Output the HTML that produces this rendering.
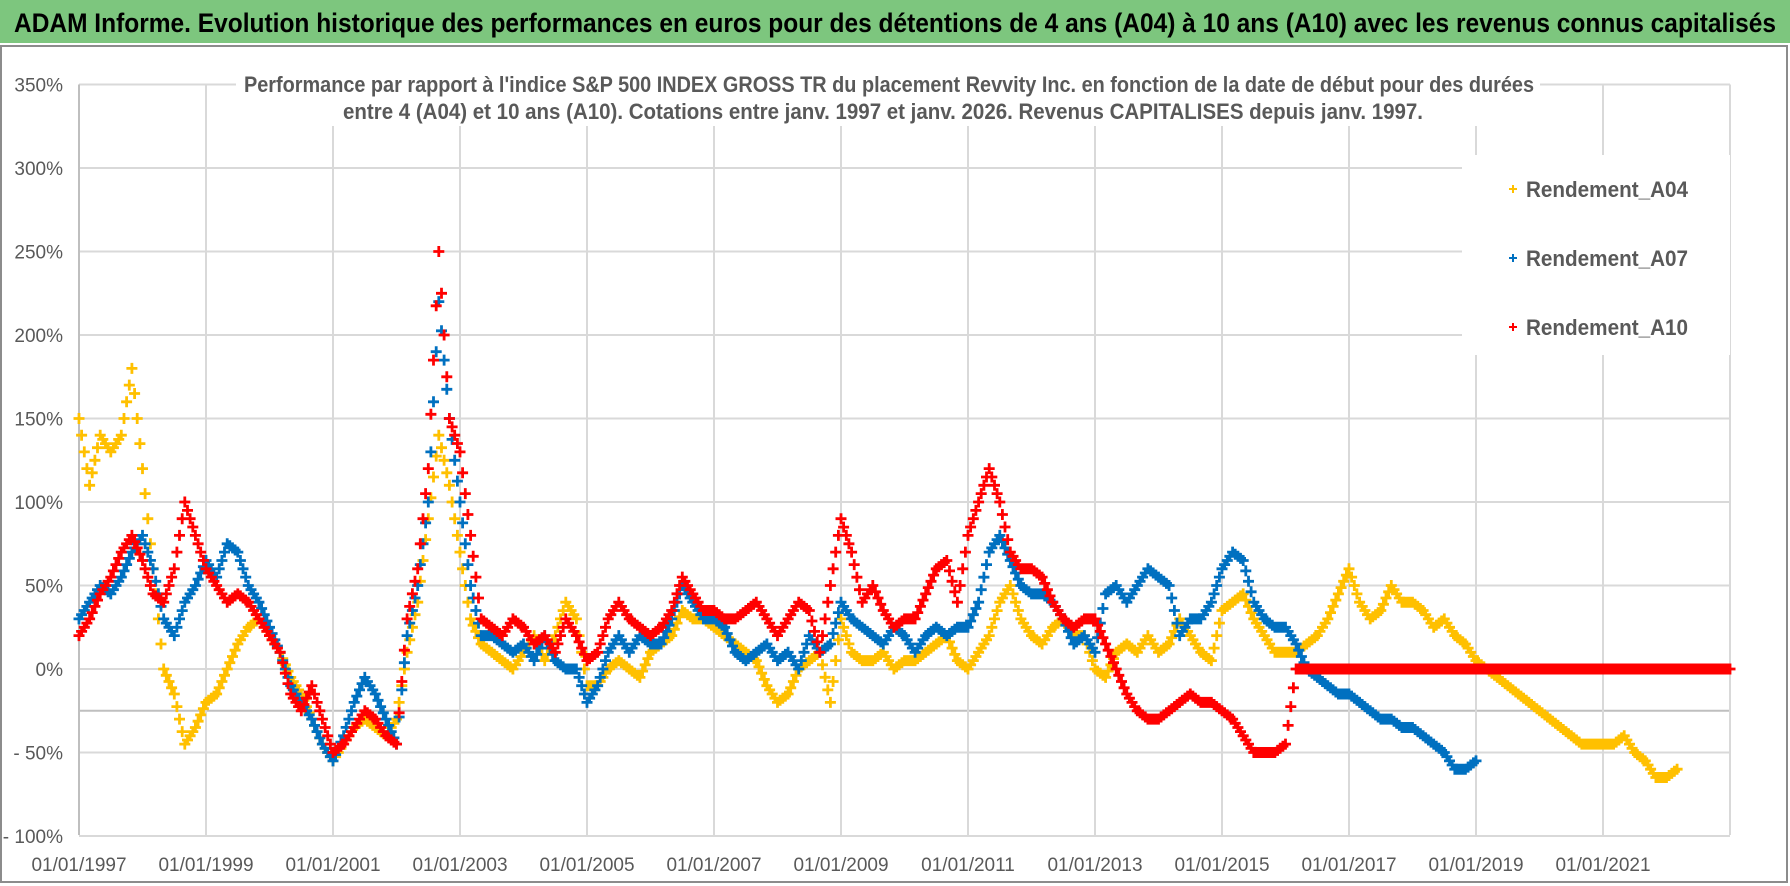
<!DOCTYPE html>
<html><head><meta charset="utf-8"><style>
html,body{margin:0;padding:0;background:#fff;}
svg{display:block;font-family:"Liberation Sans Narrow","Liberation Sans",sans-serif;}
</style></head><body>
<svg id="chart" width="1790" height="886" viewBox="0 0 1790 886" xmlns="http://www.w3.org/2000/svg">
<rect x="0" y="0" width="1790" height="886" fill="#fff"/>
<rect x="0" y="0" width="1790" height="43" fill="#7dc67e"/>
<text x="14" y="32" font-size="27" font-weight="bold" fill="#000" textLength="1762" lengthAdjust="spacingAndGlyphs">ADAM Informe. Evolution historique des performances en euros pour des détentions de 4 ans (A04) à 10 ans (A10) avec les revenus connus capitalisés</text>
<rect x="1" y="46" width="1786" height="836" fill="none" stroke="#8c8c8c" stroke-width="2"/>
<g id="grid"></g>
<g id="axes"></g>
<g id="marks"></g>
<rect x="236" y="64" width="1304" height="62" fill="#fff"/>
<text x="244" y="92" font-size="22" font-weight="bold" fill="#595959" textLength="1290" lengthAdjust="spacingAndGlyphs">Performance par rapport à l'indice S&amp;P 500 INDEX GROSS TR  du placement Revvity Inc. en fonction de la date de début pour des durées</text>
<text x="343" y="119" font-size="22" font-weight="bold" fill="#595959" textLength="1080" lengthAdjust="spacingAndGlyphs">entre 4 (A04) et 10 ans (A10).  Cotations entre janv. 1997 et janv. 2026. Revenus CAPITALISES depuis janv. 1997.</text>
<g>
<rect x="1462" y="155" width="268" height="200" fill="#fff"/>
<g><path d="M1509 189h8M1513 185v8" stroke="#ffc000" stroke-width="2"/><text x="1526" y="197" font-size="22" font-weight="bold" fill="#595959" textLength="162" lengthAdjust="spacingAndGlyphs">Rendement_A04</text></g>
<g><path d="M1509 258h8M1513 254v8" stroke="#0070c0" stroke-width="2"/><text x="1526" y="266" font-size="22" font-weight="bold" fill="#595959" textLength="162" lengthAdjust="spacingAndGlyphs">Rendement_A07</text></g>
<g><path d="M1509 327h8M1513 323v8" stroke="#ff0000" stroke-width="2"/><text x="1526" y="335" font-size="22" font-weight="bold" fill="#595959" textLength="162" lengthAdjust="spacingAndGlyphs">Rendement_A10</text></g>
</g>
</svg>
<script>
const startYear = 1997;
const stepYears = 1/6;
const yTicks = [350,300,250,200,150,100,50,0,-50,-100];
const yTickLabels = ["350%","300%","250%","200%","150%","100%","50%","0%","- 50%","- 100%"];
const xTickYears = [1997,1999,2001,2003,2005,2007,2009,2011,2013,2015,2017,2019,2021];
const xTickLabels = ["01/01/1997","01/01/1999","01/01/2001","01/01/2003","01/01/2005","01/01/2007","01/01/2009","01/01/2011","01/01/2013","01/01/2015","01/01/2017","01/01/2019","01/01/2021"];
const rendementA04 = [
150,110,140,130,140,180,
120,60,0,-15,-45,-35,
-20,-15,0,15,25,30,
20,10,-5,-15,-30,-45,
-55,-45,-35,-30,-35,-40,
-30,10,40,90,140,110,
70,30,15,10,5,0,
10,20,5,20,40,30,
-10,-10,0,5,0,-5,
10,15,20,35,30,30,
25,20,15,10,5,-10,
-20,-15,0,5,10,-20,
30,10,5,5,10,0,
5,5,10,15,20,5,
0,10,20,40,50,30,
20,15,25,30,20,20,
0,-5,10,15,10,20,
10,15,30,20,10,5,
35,40,45,30,20,10,
10,10,15,20,30,45,
60,40,30,35,50,40,
40,35,25,30,20,15,
5,0,-5,-10,-15,-20,
-25,-30,-35,-40,-45,-45,
-45,-45,-40,-50,-55,-65,
-65,-60];
const rendementA07 = [
30,40,50,45,55,70,
80,60,30,20,40,50,
65,55,75,70,50,40,
25,10,-10,-20,-30,-45,
-55,-40,-20,-5,-15,-30,
-45,20,50,100,220,150,
100,50,20,20,15,10,
15,5,20,5,0,0,
-20,-10,10,20,10,20,
15,15,30,50,40,30,
30,25,10,5,10,15,
5,10,0,20,10,15,
40,30,25,20,15,25,
20,10,20,25,20,25,
25,40,70,80,65,50,
45,45,40,30,15,20,
10,45,50,40,50,60,
55,50,20,30,30,40,
60,70,65,40,30,25,
25,15,0,-5,-10,-15,
-15,-20,-25,-30,-30,-35,
-35,-40,-45,-50,-60,-60,
-55];
const rendementA10 = [
20,30,45,55,70,80,
65,45,40,60,100,80,
60,50,40,45,40,30,
20,10,-15,-25,-10,-30,
-50,-45,-35,-25,-30,-40,
-45,30,60,120,250,150,
130,80,30,25,20,30,
25,15,20,10,30,20,
5,10,30,40,30,25,
20,25,35,55,45,35,
35,30,30,35,40,30,
20,30,40,35,10,50,
90,70,40,50,35,25,
30,30,45,60,65,40,
80,100,120,100,70,60,
60,55,40,30,25,30,
30,15,0,-15,-25,-30,
-30,-25,-20,-15,-20,-20,
-25,-30,-40,-50,-50,-50,
-45,0,0,0,0,0,
0,0,0,0,0,0,
0,0,0,0,0,0,
0,0,0,0,0,0,
0,0,0,0,0,0,
0,0,0,0,0,0,
0,0,0,0,0,0,
0];

const NS = "http://www.w3.org/2000/svg";
const plotLeft = 79, plotRight = 1730, plotBottom = 835;
function xScale(year){ return plotLeft + (year - 1997) * 63.5; }
function yScale(v){ return 669 - v * 1.67; }
function mk(tag, attrs, parent){ const e=document.createElementNS(NS,tag); for(const k in attrs) e.setAttribute(k,attrs[k]); parent.appendChild(e); return e; }

const grid = document.getElementById('grid');
yTicks.forEach(v=>{
  const l = mk('line',{x1:plotLeft,x2:plotRight,y1:yScale(v),y2:yScale(v),stroke:'#d9d9d9','stroke-width':2},grid);
  
  
});
const g25 = mk('line',{x1:plotLeft,x2:plotRight,y1:yScale(-25),y2:yScale(-25),stroke:'#bfbfbf','stroke-width':2},grid);


for(let yr=1999; yr<=2023; yr+=2){
  const l = mk('line',{x1:xScale(yr),x2:xScale(yr),y1:yScale(350),y2:plotBottom,stroke:'#d9d9d9','stroke-width':2},grid);
  
  
}
const axes = document.getElementById('axes');
const ya = mk('line',{x1:plotLeft,x2:plotLeft,y1:yScale(350),y2:plotBottom,stroke:'#bfbfbf','stroke-width':2},axes);


yTicks.forEach((v,i)=>{
  const t = mk('text',{x:63,y:yScale(v)+7,'text-anchor':'end','font-size':19,fill:'#595959'},axes);
  t.textContent = yTickLabels[i];
  
  
});
xTickYears.forEach((yr,i)=>{
  const t = mk('text',{x:xScale(yr),y:871,'text-anchor':'middle','font-size':19,fill:'#595959'},axes);
  t.textContent = xTickLabels[i];
  
  
});

const marks = document.getElementById('marks');
function drawSeries(arr, color, name){
  const g = mk('g',{stroke:color,'stroke-width':2.8,fill:'none'},marks);
  
  
  let d = '';
  const plus = (x,y)=>{ d += `M${(x-5.5).toFixed(1)} ${y.toFixed(1)}h11M${x.toFixed(1)} ${(y-5.5).toFixed(1)}v11`; };
  for(let i=0;i<arr.length;i++){
    const x = xScale(startYear + i*stepYears), y = yScale(arr[i]);
    plus(x,y);
    if(i+1<arr.length){
      const x2 = xScale(startYear + (i+1)*stepYears), y2 = yScale(arr[i+1]);
      for(let k=1;k<4;k++){ const f=k/4; plus(x+(x2-x)*f, y+(y2-y)*f); }
    }
  }
  const p = mk('path',{d:d},g);
  
  
}
drawSeries(rendementA04,'#ffc000','series-rendement-a04');
drawSeries(rendementA07,'#0070c0','series-rendement-a07');
drawSeries(rendementA10,'#ff0000','series-rendement-a10');
</script>
</body></html>
